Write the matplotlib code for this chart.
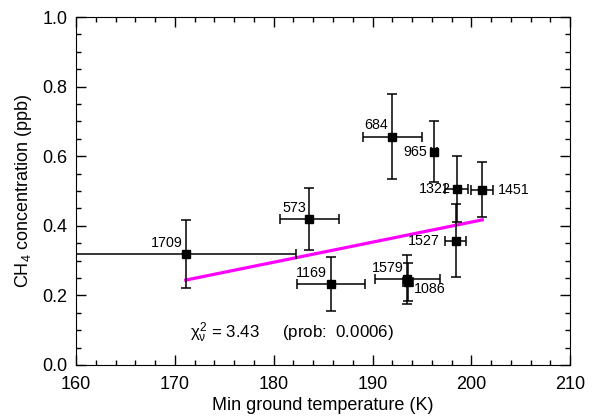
import numpy as np
import matplotlib.pyplot as plt
from matplotlib.ticker import MultipleLocator

plt.rcParams['font.family'] = ['Liberation Sans', 'DejaVu Sans']
plt.rcParams['mathtext.fontset'] = 'custom'
plt.rcParams['mathtext.rm'] = 'Liberation Sans'
plt.rcParams['mathtext.it'] = 'Liberation Sans'
plt.rcParams['mathtext.bf'] = 'Liberation Sans:bold'

# data
labels = ['1709', '573', '1169', '684', '965', '1322', '1527', '1451', '1579', '1086']
temp = [171.1, 183.6, 185.8, 192.0, 196.2, 198.5, 198.4, 201.1, 193.5, 193.6]
temp_err = [11.2, 3.0, 3.4, 3.0, 0.3, 1.2, 1.1, 1.1, 3.3, 0.5]
ch4 = [0.319, 0.420, 0.233, 0.656, 0.613, 0.505, 0.357, 0.503, 0.246, 0.238]
ch4_err = [0.098, 0.090, 0.077, 0.122, 0.088, 0.095, 0.105, 0.079, 0.070, 0.054]
# label offsets (pixels) and alignment
lab_dx = [-3, -3, -4, -4, -7, -6, -16, 16, -4, 6]
lab_dy = [11, 11, 11, 12, 0, 0, 0, 0, 11, -7]
lab_ha = ['right'] * 7 + ['left', 'right', 'left']

fit_slope = 0.00577
fit_icpt = 0.244 - fit_slope * 171.1
chi2 = 3.43
prob = 0.0006

fig = plt.figure(figsize=(5.94, 4.16), dpi=100)
ax = fig.add_axes([0.128, 0.1226, 0.832, 0.8365])

ax.errorbar(temp, ch4, xerr=temp_err, yerr=ch4_err, fmt='s', color='black',
            ms=5.5, elinewidth=1.1, capsize=3.5, capthick=1.1, zorder=3)

fx = np.array([min(temp), max(temp)])
ax.plot(fx, fit_icpt + fit_slope * fx, color='#ff00ff', lw=2.3, zorder=2)

for i, lab in enumerate(labels):
    ax.annotate(lab, (temp[i], ch4[i]), xytext=(lab_dx[i] * 0.72, lab_dy[i] * 0.72),
                textcoords='offset points', ha=lab_ha[i], va='center', fontsize=10.3)

ax.text(171.5, 0.092, r'$\chi^2_\nu$ = %.2f     (prob:  %.4f)' % (chi2, prob),
        fontsize=12.2, va='center')

ax.set_xlim(160, 210)
ax.set_ylim(0, 1)
ax.xaxis.set_major_locator(MultipleLocator(10))
ax.xaxis.set_minor_locator(MultipleLocator(2))
ax.yaxis.set_major_locator(MultipleLocator(0.2))
ax.yaxis.set_minor_locator(MultipleLocator(0.05))
ax.yaxis.set_major_formatter(plt.FormatStrFormatter('%.1f'))
ax.tick_params(which='both', direction='in', top=True, right=True, labelsize=13, width=1)
ax.tick_params(which='major', length=7)
ax.tick_params(which='minor', length=3.5)
ax.tick_params(axis='x', which='major', pad=8)
ax.tick_params(axis='y', which='major', pad=6)

ax.set_xlabel('Min ground temperature (K)', fontsize=13, labelpad=3)
ax.set_ylabel('CH$_4$ concentration (ppb)', fontsize=13, labelpad=6)

fig.savefig('out.png', dpi=100)
